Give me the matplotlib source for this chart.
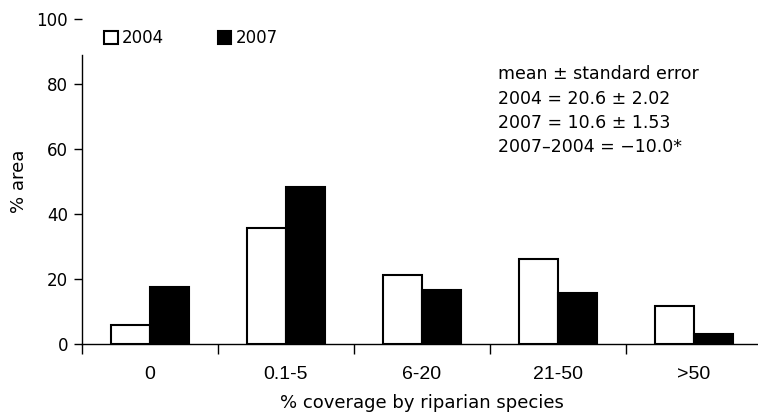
import numpy as np
import matplotlib.pyplot as plt

categories = ["0", "0.1-5", "6-20", "21-50", ">50"]
area_2004 = [5.9, 35.7, 21.2, 26.1, 11.6]
area_2007 = [17.5, 48.2, 16.5, 15.6, 3.0]
stats_text = ["mean \u00b1 standard error",
              "2004 = 20.6 \u00b1 2.02",
              "2007 = 10.6 \u00b1 1.53",
              "2007\u20132004 = \u221210.0*"]

plt.rcParams['font.family'] = ['DejaVu Sans']

fig = plt.figure(figsize=(7.58, 4.17), dpi=100)
ax = fig.add_axes([82 / 758, 73 / 417, 680 / 758, 325 / 417])

x = np.arange(len(categories))
w = 0.29
ax.bar(x - w / 2, area_2004, w, color="white", edgecolor="black", linewidth=1.5, label="2004")
ax.bar(x + w / 2, area_2007, w, color="black", edgecolor="black", linewidth=1.5, label="2007")

ax.set_xlim(-0.5, len(categories) - 0.5)
ax.set_ylim(0, 100)
ax.set_yticks([0, 20, 40, 60, 80, 100])
ax.set_xticks(x)
ax.set_xticklabels(categories, family=['Liberation Sans', 'DejaVu Sans'], fontsize=14)
ax.set_xticks(np.arange(len(categories) + 1) - 0.5, minor=True)
ax.tick_params(axis="x", which="major", length=0, pad=16)
ax.tick_params(axis="x", which="minor", length=7, width=1)
ax.tick_params(axis="y", length=6, width=1, labelsize=12, pad=4)

for s in ["top", "right"]:
    ax.spines[s].set_visible(False)
ax.spines["left"].set_bounds(0, 89)
ax.spines["left"].set_linewidth(1)
ax.spines["bottom"].set_linewidth(1)

ax.set_xlabel("% coverage by riparian species", fontsize=13, labelpad=8)
ax.set_ylabel("% area", fontsize=13, labelpad=6)

ax.legend(loc="upper left", bbox_to_anchor=(0.018, 1.0), ncol=2, frameon=False,
          fontsize=12, handlelength=0.8, handleheight=0.8, handletextpad=0.25,
          columnspacing=3.25, borderaxespad=0.2)

ax.text(0.612, 0.857, "\n".join(stats_text), transform=ax.transAxes,
        fontsize=12.5, va="top", ha="left", linespacing=1.45)

fig.savefig("out.png", dpi=100)
